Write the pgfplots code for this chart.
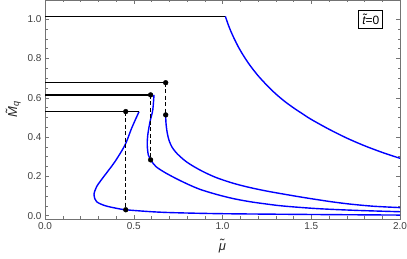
\documentclass[border=0pt]{standalone}
\usepackage{pgfplots}
\pgfplotsset{compat=1.18}
\usepackage{fontspec}
\setmainfont{Liberation Sans}
\definecolor{framegray}{gray}{0.45}
\definecolor{ticklab}{gray}{0.25}
\definecolor{mblue}{rgb}{0,0,1}
\begin{document}
\begin{tikzpicture}
\begin{axis}[
  scale only axis,
  width=355pt, height=219pt,
  xmin=0, xmax=2, ymin=-0.017, ymax=1.098,
  xtick={0,0.5,1,1.5,2},
  ytick={0,0.2,0.4,0.6,0.8,1.0},
  minor x tick num=4,
  minor y tick num=3,
  tick align=inside,
  major tick length=4pt,
  minor tick length=2.5pt,
  every tick/.style={framegray, line width=0.5pt},
  axis line style={framegray, line width=0.7pt},
  tick label style={font=\fontsize{10}{11}\selectfont, text=ticklab},
  /pgf/number format/assume math mode=true,
  /pgf/number format/fixed,
  /pgf/number format/fixed zerofill,
  /pgf/number format/precision=1,
  xlabel={\itshape\~{μ}},
  ylabel={\itshape\~{M}\textsubscript{q}},
  label style={font=\fontsize{13}{14}\selectfont, text=black!85},
  xlabel style={yshift=-3pt},
  ylabel style={yshift=0pt},
  clip=false,
]
% blue curves
\addplot[mblue, line width=1.4pt, smooth] coordinates {
(1.016,1.015)(1.030,0.978)(1.045,0.943)(1.065,0.903)(1.090,0.858)(1.120,0.812)
(1.155,0.765)(1.200,0.713)(1.250,0.664)(1.300,0.620)(1.350,0.582)(1.400,0.549)
(1.450,0.519)(1.500,0.490)(1.600,0.440)(1.700,0.395)(1.800,0.356)(1.900,0.322)(2.000,0.292)};
\addplot[mblue, line width=1.4pt, smooth] coordinates {
(0.680,0.513)(0.681,0.480)(0.684,0.450)(0.690,0.415)(0.700,0.380)(0.715,0.350)
(0.735,0.325)(0.760,0.302)(0.800,0.272)(0.850,0.244)(0.900,0.220)(0.967,0.193)
(1.060,0.165)(1.155,0.143)(1.250,0.125)(1.343,0.110)(1.440,0.095)(1.531,0.082)
(1.620,0.070)(1.718,0.059)(1.850,0.048)(2.0,0.041)};
\addplot[mblue, line width=1.4pt, smooth] coordinates {
(0.614,0.615)(0.607,0.537)(0.592,0.480)(0.579,0.411)(0.576,0.360)(0.582,0.309)
(0.595,0.284)(0.625,0.250)(0.673,0.221)(0.732,0.192)(0.80,0.162)(0.873,0.134)
(0.967,0.108)(1.06,0.087)(1.155,0.071)(1.25,0.059)(1.343,0.049)(1.531,0.036)(1.75,0.027)(2.0,0.020)};
\addplot[mblue, line width=1.4pt, smooth] coordinates {
(0.530,0.530)(0.488,0.445)(0.451,0.360)(0.394,0.275)(0.338,0.207)(0.291,0.148)
(0.276,0.105)(0.291,0.071)(0.338,0.051)(0.400,0.038)(0.455,0.030)(0.601,0.020)
(0.732,0.015)(1.0,0.010)(1.5,0.006)(2.0,0.003)};
% black horizontal lines
\addplot[black, line width=1.4pt] coordinates {(0,1.015)(1.016,1.015)};
\addplot[black, line width=1.4pt] coordinates {(0,0.677)(0.680,0.677)};
\addplot[black, line width=1.4pt] coordinates {(0,0.615)(0.595,0.615)};
\addplot[black, line width=1.4pt] coordinates {(0,0.530)(0.530,0.530)};
% dashed verticals
\addplot[black, line width=1.4pt, dash pattern=on 4pt off 2.5pt] coordinates {(0.680,0.677)(0.680,0.513)};
\addplot[black, line width=1.4pt, dash pattern=on 4pt off 2.5pt] coordinates {(0.595,0.615)(0.595,0.284)};
\addplot[black, line width=1.4pt, dash pattern=on 4pt off 2.5pt] coordinates {(0.455,0.530)(0.455,0.030)};
% dots
\addplot[only marks, mark=*, mark size=2.4pt, black] coordinates {
(0.680,0.677)(0.680,0.513)(0.595,0.615)(0.595,0.284)(0.455,0.530)(0.455,0.030)};
\node[draw=black, line width=0.9pt, fill=white, inner sep=3.5pt, font=\fontsize{12}{13}\selectfont]
  at (rel axis cs:0.918,0.911) {{\itshape\~{t}}=0};
\end{axis}
\pgfresetboundingbox
\path[use as bounding box] ([xshift=-45pt,yshift=-40pt]current axis.south west) rectangle ([xshift=7pt]current axis.north east);
\end{tikzpicture}
\end{document}
